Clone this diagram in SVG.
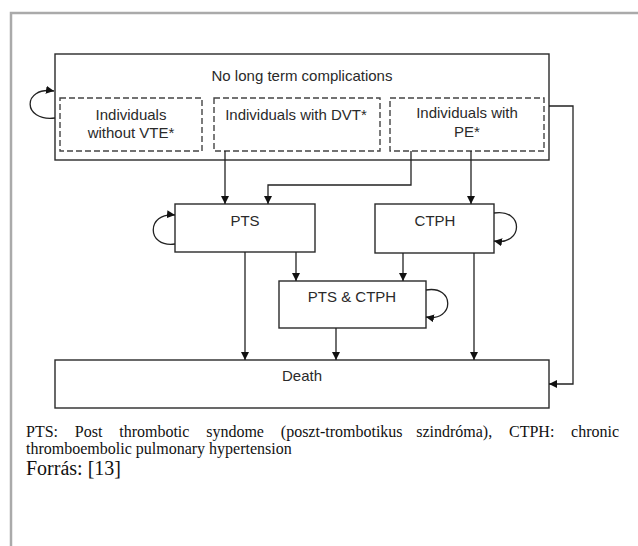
<svg xmlns="http://www.w3.org/2000/svg" width="638" height="546" viewBox="0 0 638 546">
<style>
.box{fill:#fff;stroke:#2a2a2a;stroke-width:1.4}
.dash{fill:none;stroke:#444;stroke-width:1.4;stroke-dasharray:6 3}
.lbl{font-family:"Liberation Sans",Arial,sans-serif;font-size:15px;fill:#2a2a2a;text-anchor:middle}
.con{fill:none;stroke:#222;stroke-width:1.3}
.cap{font-family:"Liberation Serif","Times New Roman",serif;font-size:16px;fill:#111}
</style>
<defs>
<marker id="ah" markerUnits="userSpaceOnUse" markerWidth="9" markerHeight="8" refX="8" refY="4" orient="auto">
<path d="M0,0 L8,4 L0,8 Z" fill="#111"/>
</marker>
</defs>
<rect width="638" height="546" fill="#fff"/>
<path d="M11,546 V13 H638" fill="none" stroke="#aaa" stroke-width="2.5"/>

<g id="no-long-term">
<rect class="box" x="55" y="54" width="494" height="106"/>
<text class="lbl" x="302" y="81">No long term complications</text>
</g>
<g id="without-vte">
<rect class="dash" x="60" y="98" width="142" height="53"/>
<text class="lbl" x="131" y="120">Individuals</text>
<text class="lbl" x="131" y="138">without VTE*</text>
</g>
<g id="with-dvt">
<rect class="dash" x="214" y="98" width="166" height="53"/>
<text class="lbl" x="296" y="120">Individuals with DVT*</text>
</g>
<g id="with-pe">
<rect class="dash" x="390" y="98" width="154" height="53"/>
<text class="lbl" x="467" y="118">Individuals with</text>
<text class="lbl" x="467" y="137">PE*</text>
</g>
<g id="pts">
<rect class="box" x="175" y="204" width="140" height="48"/>
<text class="lbl" x="245" y="226">PTS</text>
</g>
<g id="ctph">
<rect class="box" x="375" y="204" width="119" height="49"/>
<text class="lbl" x="435" y="226">CTPH</text>
</g>
<g id="pts-ctph">
<rect class="box" x="279" y="281" width="147" height="47"/>
<text class="lbl" x="352" y="302">PTS &amp; CTPH</text>
</g>
<g id="death">
<rect class="box" x="55" y="360" width="494" height="48"/>
<text class="lbl" x="302" y="381">Death</text>
</g>

<g id="connectors">
<path class="con" marker-end="url(#ah)" d="M55,118 C22,122 22,86 54,91"/>
<path class="con" marker-end="url(#ah)" d="M175,244 C146,248 146,212 175,215"/>
<path class="con" marker-end="url(#ah)" d="M494,213 C524,208 524,246 494,241"/>
<path class="con" marker-end="url(#ah)" d="M426,290 C455,285 455,322 426,317"/>
<path class="con" marker-end="url(#ah)" d="M225,151 V204"/>
<path class="con" marker-end="url(#ah)" d="M411,151 V185 H268 V204"/>
<path class="con" marker-end="url(#ah)" d="M471,151 V204"/>
<path class="con" marker-end="url(#ah)" d="M549,106 H573 V384 H549"/>
<path class="con" marker-end="url(#ah)" d="M296,252 V281"/>
<path class="con" marker-end="url(#ah)" d="M403,253 V281"/>
<path class="con" marker-end="url(#ah)" d="M245,252 V360"/>
<path class="con" marker-end="url(#ah)" d="M336,328 V360"/>
<path class="con" marker-end="url(#ah)" d="M474,253 V360"/>
</g>

<g id="caption">
<text class="cap" y="437"><tspan x="26">PTS:</tspan><tspan x="74.8">Post</tspan><tspan x="119.2">thrombotic</tspan><tspan x="206.2">syndome</tspan><tspan x="280.8">(poszt-trombotikus</tspan><tspan x="416.2">szindróma),</tspan><tspan x="509">CTPH:</tspan><tspan x="571.1">chronic</tspan></text>
<text class="cap" x="26" y="454">thromboembolic pulmonary hypertension</text>
<text class="cap" x="26" y="475" style="font-size:20px">Forrás: [13]</text>
</g>
</svg>
